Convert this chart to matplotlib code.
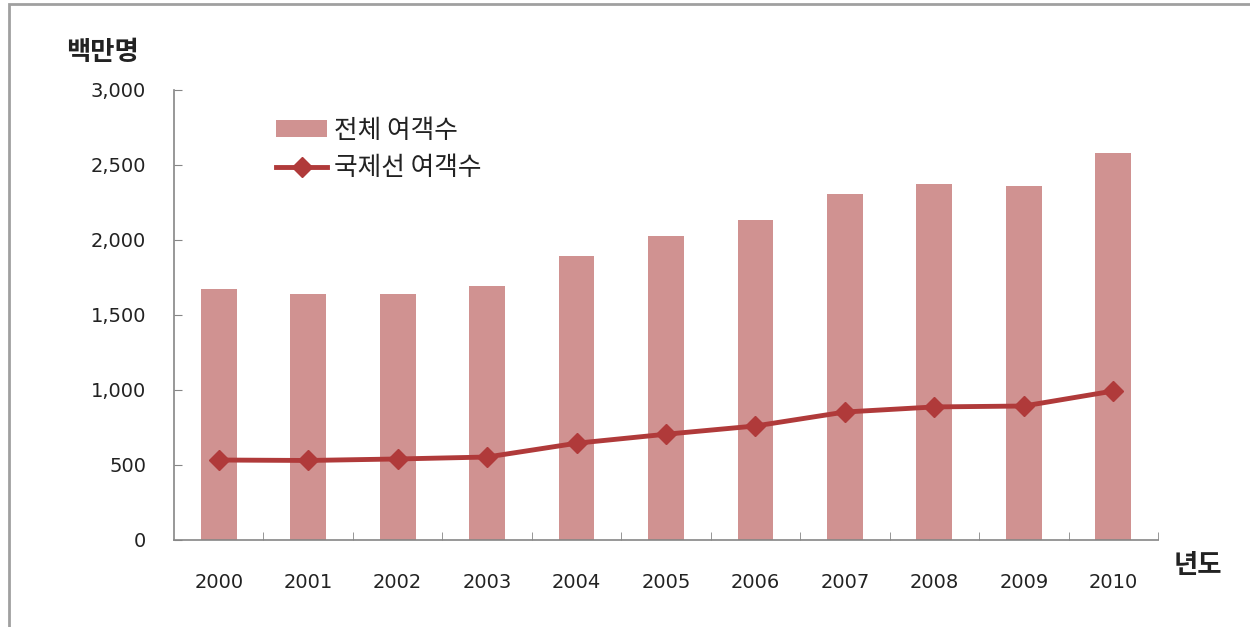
import matplotlib
matplotlib.use("Agg")
import matplotlib.pyplot as plt
from matplotlib.patches import Rectangle

plt.rcParams["font.family"] = ["Noto Sans CJK KR", "DejaVu Sans"]

# data (millions of passengers)
years = ["2000", "2001", "2002", "2003", "2004", "2005",
         "2006", "2007", "2008", "2009", "2010"]
total_pax = [1673, 1638, 1638, 1690, 1893, 2025, 2130, 2305, 2373, 2360, 2580]
intl_pax = [533, 530, 540, 553, 645, 705, 760, 853, 887, 893, 993]
yticks = [0, 500, 1000, 1500, 2000, 2500, 3000]

bar_color = "#D09291"
line_color = "#B03A3A"
axis_color = "#868686"
text_color = "#222222"

fig = plt.figure(figsize=(12.5, 6.27), dpi=100)
fig.patches.append(Rectangle((0.007, -0.01), 1.0, 1.003, transform=fig.transFigure,
                             fill=False, edgecolor="#A0A0A0", linewidth=2))
ax = fig.add_axes([0.1392, 0.1388, 0.7872, 0.7177])

x = list(range(len(years)))
bars = ax.bar(x, total_pax, width=0.4, color=bar_color, zorder=2)
line, = ax.plot(x, intl_pax, color=line_color, linewidth=3.5, marker="D",
                markersize=10.5, zorder=3)

ax.set_xlim(-0.5, len(years) - 0.5)
ax.set_ylim(0, 3000)
ax.set_yticks(yticks)
ax.set_yticklabels([f"{v:,}" for v in yticks], family="DejaVu Sans")
ax.set_xticks(x)
ax.set_xticklabels(years, family="DejaVu Sans")
ax.set_xticks([i + 0.5 for i in x], minor=True)

for side in ["top", "right"]:
    ax.spines[side].set_visible(False)
for side in ["left", "bottom"]:
    ax.spines[side].set_color(axis_color)
    ax.spines[side].set_linewidth(1.2)

ax.tick_params(axis="y", direction="in", length=6, color=axis_color,
               labelsize=14, pad=20, labelcolor=text_color)
ax.tick_params(axis="x", which="major", length=0, labelsize=14, pad=24,
               labelcolor=text_color)
ax.tick_params(axis="x", which="minor", direction="in", length=6, color=axis_color)

fig.text(0.082, 0.917, "백만명", fontsize=19, fontweight="bold", ha="center",
         va="center", color=text_color)
fig.text(0.958, 0.098, "년도", fontsize=19, fontweight="bold", ha="center",
         va="center", color=text_color)

ax.legend([bars, line], ["전체 여객수", "국제선 여객수"], loc="upper left",
          bbox_to_anchor=(0.08, 0.99), frameon=False, fontsize=18.5,
          handlelength=2.0, handleheight=0.6, handletextpad=0.25,
          labelspacing=0.45, labelcolor=text_color)

fig.savefig("out.png", dpi=100)
